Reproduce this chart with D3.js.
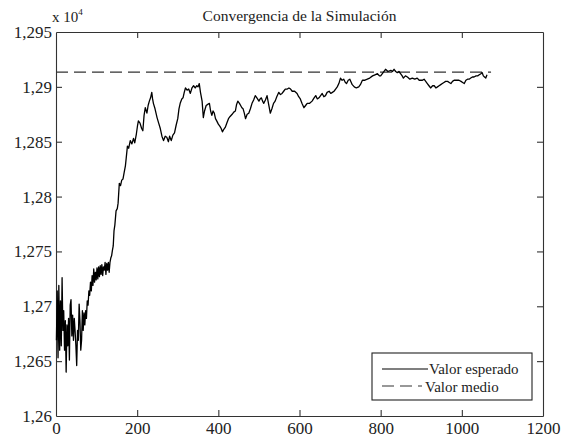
<!DOCTYPE html>
<html>
<head>
<meta charset="utf-8">
<script src="https://cdn.jsdelivr.net/npm/d3@7"></script>
<style>
  body { margin: 0; background: #fff; }
  svg { display: block; }
  .axis text { font-family: "Liberation Serif", "Times New Roman", serif; font-size: 17px; fill: #222; }
  .axis path, .axis line { stroke: #333; stroke-width: 1.1; }
</style>
</head>
<body>
<div id="chart"></div>
<script>
var w = 564;
var h = 439;

// iteraciones de la simulacion (eje x)
var iteraciones = [
  1, 3, 5, 7, 9, 11, 13, 15, 17, 19,
  21, 23, 25, 27, 29, 31, 33, 35, 37, 39,
  41, 43, 45, 47, 49, 51, 53, 55, 57, 59,
  61, 63, 65, 67, 69, 71, 73, 75, 77, 79,
  81, 83, 85, 87, 89, 91, 93, 95, 97, 99,
  101, 103, 105, 107, 109, 111, 113, 115, 117, 119,
  121, 123, 125, 127, 129, 131, 133, 135, 137, 139,
  141, 143, 145, 148, 151, 153, 156, 159, 162, 165,
  168, 171, 173, 176, 179, 183, 187, 191, 194, 198,
  201, 203, 207, 211, 214, 217, 220, 224, 227, 230,
  233, 236, 238, 240, 244, 249, 253, 257, 261, 265,
  269, 273, 277, 280, 284, 288, 292, 296, 300, 303,
  306, 310, 313, 316, 319, 323, 327, 331, 335, 339,
  343, 347, 350, 353, 356, 360, 363, 366, 370, 374,
  378, 381, 384, 387, 390, 393, 396, 400, 404, 407,
  410, 413, 417, 421, 425, 429, 434, 438, 442, 445,
  448, 452, 455, 458, 461, 464, 467, 471, 475, 479,
  483, 487, 491, 495, 500, 503, 506, 509, 512, 516,
  520, 524, 528, 532, 536, 540, 544, 549, 553, 557,
  561, 565, 570, 574, 578, 582, 588, 594, 598, 602,
  606, 611, 615, 619, 625, 631, 636, 640, 644, 648,
  652, 656, 660, 664, 668, 673, 677, 681, 685, 689,
  693, 697, 701, 705, 709, 713, 716, 720, 724, 730,
  735, 740, 746, 750, 755, 760, 767, 773, 780, 786,
  792, 797, 800, 806, 812, 818, 825, 829, 833, 837,
  841, 845, 849, 853, 856, 861, 866, 872, 878, 884,
  890, 895, 899, 903, 907, 911, 915, 919, 923, 928,
  932, 936, 940, 944, 948, 952, 956, 960, 965, 969,
  973, 977, 981, 985, 989, 993, 998, 1002, 1006, 1010,
  1014, 1018, 1022, 1026, 1030, 1035, 1039, 1043, 1047, 1050,
  1053, 1056, 1059, 1062
];

// valor esperado acumulado
var valorEsperado = [
  12669, 12714, 12653, 12719, 12660, 12705, 12664, 12726, 12678, 12696,
  12660, 12687, 12640, 12683, 12664, 12689, 12651, 12701, 12706, 12673,
  12692, 12669, 12689, 12678, 12664, 12646, 12678, 12669, 12702, 12687,
  12660, 12669, 12696, 12678, 12694, 12683, 12696, 12689, 12705, 12701,
  12714, 12710, 12722, 12714, 12728, 12719, 12734, 12722, 12731, 12724,
  12735, 12725, 12736, 12727, 12737, 12729, 12738, 12728, 12736, 12733,
  12740, 12729, 12739, 12733, 12740, 12731, 12740, 12744, 12746, 12751,
  12755, 12769, 12774, 12787, 12789, 12794, 12812, 12810, 12815, 12816,
  12822, 12828, 12835, 12846, 12844, 12851, 12848, 12853, 12849, 12857,
  12865, 12869, 12867, 12862, 12860, 12874, 12881, 12876, 12883, 12887,
  12890, 12895, 12889, 12885, 12880, 12872, 12867, 12862, 12855, 12851,
  12855, 12854, 12850, 12855, 12851, 12856, 12858, 12865, 12871, 12880,
  12885, 12889, 12890, 12895, 12899, 12897, 12898, 12894, 12899, 12901,
  12899, 12901, 12900, 12903, 12895, 12887, 12872, 12878, 12883, 12884,
  12885, 12878, 12874, 12878, 12876, 12871, 12869, 12866, 12864, 12862,
  12859, 12861, 12863, 12867, 12871, 12873, 12875, 12877, 12878, 12884,
  12887, 12885, 12883, 12881, 12880, 12876, 12871, 12875, 12876, 12880,
  12885, 12888, 12892, 12890, 12887, 12889, 12890, 12887, 12885, 12888,
  12892, 12884, 12876, 12880, 12885, 12887, 12891, 12895, 12893, 12894,
  12896, 12898, 12898, 12899, 12898, 12896, 12896, 12894, 12891, 12889,
  12885, 12881, 12883, 12885, 12885, 12887, 12890, 12892, 12889, 12890,
  12892, 12894, 12891, 12892, 12895, 12896, 12894, 12895, 12896, 12898,
  12900, 12903, 12908, 12906, 12907, 12904, 12903, 12906, 12907, 12902,
  12900, 12899, 12900, 12902, 12906, 12906, 12907, 12908, 12910, 12911,
  12912, 12910, 12910, 12913, 12916, 12914, 12915, 12914, 12916, 12914,
  12913, 12914, 12912, 12910, 12908, 12910, 12909, 12907, 12908, 12907,
  12908, 12906, 12906, 12906, 12907, 12905, 12903, 12901, 12899, 12901,
  12901, 12899, 12900, 12901, 12902, 12903, 12904, 12905, 12905, 12904,
  12903, 12905, 12906, 12906, 12906, 12906, 12905, 12904, 12903, 12906,
  12907, 12907, 12908, 12909, 12909, 12910, 12910, 12911, 12912, 12913,
  12910, 12909, 12908, 12911
];

// valor medio (linea discontinua)
var valorMedio = 12913.4;
var medioDesde = 0;
var medioHasta = 1072;

var xTicks = [0, 200, 400, 600, 800, 1000, 1200];
var xTickLabels = ["0", "200", "400", "600", "800", "1000", "1200"];
var yTicks = [12600, 12650, 12700, 12750, 12800, 12850, 12900, 12950];
var yTickLabels = ["1,26", "1,265", "1,27", "1,275", "1,28", "1,285", "1,29", "1,295"];

var mLeft = 56, mRight = 543, mTop = 32, mBottom = 416;

var x = d3.scaleLinear().domain([0, 1200]).range([mLeft, mRight]);
var y = d3.scaleLinear().domain([12600, 12950]).range([mBottom, mTop]);

var svg = d3.select("#chart")
            .append("svg")
            .attr("width", w)
            .attr("height", h);

svg.append("rect")
   .attr("width", w)
   .attr("height", h)
   .attr("fill", "#fff");

// ejes (estilo caja, marcas hacia dentro)
svg.append("g")
   .attr("class", "axis")
   .attr("transform", "translate(0," + mBottom + ")")
   .call(d3.axisBottom(x).tickValues(xTicks).tickSizeInner(-6).tickSizeOuter(0).tickPadding(6)
     .tickFormat(function(d, i) { return xTickLabels[i]; }));

svg.append("g")
   .attr("class", "axis")
   .attr("transform", "translate(0," + mTop + ")")
   .call(d3.axisTop(x).tickValues(xTicks).tickSizeInner(-6).tickSizeOuter(0).tickFormat(""));

svg.append("g")
   .attr("class", "axis")
   .attr("transform", "translate(" + mLeft + ",0)")
   .call(d3.axisLeft(y).tickValues(yTicks).tickSizeInner(-6).tickSizeOuter(0).tickPadding(4)
     .tickFormat(function(d, i) { return yTickLabels[i]; }));

svg.append("g")
   .attr("class", "axis")
   .attr("transform", "translate(" + mRight + ",0)")
   .call(d3.axisRight(y).tickValues(yTicks).tickSizeInner(-6).tickSizeOuter(0).tickFormat(""));

// quitar marcas que coinciden con los bordes
svg.selectAll(".axis .tick").filter(function(d) {
  return d == 0 || d == 1200 || d == 12600 || d == 12950;
}).select("line").remove();

// valor medio
svg.append("line")
   .attr("x1", x(medioDesde))
   .attr("x2", x(medioHasta))
   .attr("y1", y(valorMedio))
   .attr("y2", y(valorMedio))
   .attr("stroke", "#333")
   .attr("stroke-width", 1.2)
   .attr("stroke-dasharray", "12,6");

// valor esperado
var linea = d3.line()
  .x(function(d, i) { return x(iteraciones[i]); })
  .y(function(d) { return y(d); });

svg.append("path")
   .datum(valorEsperado)
   .attr("d", linea)
   .attr("fill", "none")
   .attr("stroke", "#000")
   .attr("stroke-width", 1.3)
   .attr("stroke-linejoin", "round");

// titulo
svg.append("text")
   .attr("x", (mLeft + mRight) / 2)
   .attr("y", 21)
   .attr("text-anchor", "middle")
   .attr("font-family", "Liberation Serif, serif")
   .attr("font-size", "15.5px")
   .attr("fill", "#222")
   .text("Convergencia de la Simulación");

// multiplicador del eje y
var mult = svg.append("text")
   .attr("x", 52)
   .attr("y", 22)
   .attr("font-family", "Liberation Serif, serif")
   .attr("font-size", "15px")
   .attr("fill", "#222");
mult.append("tspan").text("x 10");
mult.append("tspan").attr("dy", -7).attr("font-size", "9px").text("4");

// leyenda
var leg = svg.append("g");
leg.append("rect")
   .attr("x", 372)
   .attr("y", 353)
   .attr("width", 160)
   .attr("height", 47)
   .attr("fill", "#fff")
   .attr("stroke", "#222")
   .attr("stroke-width", 1.1);

leg.append("line")
   .attr("x1", 382).attr("x2", 428)
   .attr("y1", 369).attr("y2", 369)
   .attr("stroke", "#000").attr("stroke-width", 1.2);

leg.append("line")
   .attr("x1", 382).attr("x2", 422)
   .attr("y1", 386).attr("y2", 386)
   .attr("stroke", "#333").attr("stroke-width", 1.2)
   .attr("stroke-dasharray", "12,6");

leg.append("text")
   .attr("x", 429).attr("y", 374)
   .attr("font-family", "Liberation Serif, serif")
   .attr("font-size", "15px")
   .attr("fill", "#222")
   .text("Valor esperado");

leg.append("text")
   .attr("x", 425).attr("y", 391.5)
   .attr("font-family", "Liberation Serif, serif")
   .attr("font-size", "15px")
   .attr("fill", "#222")
   .text("Valor medio");
</script>
</body>
</html>
